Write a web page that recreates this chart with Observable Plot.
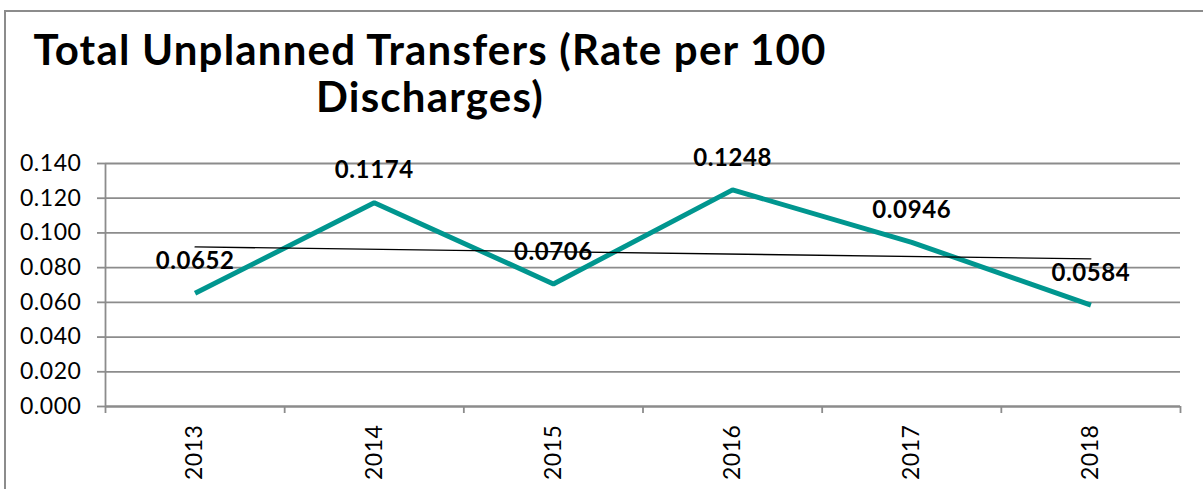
<!DOCTYPE html>
<html>
<head>
<meta charset="utf-8">
<script src="https://cdn.jsdelivr.net/npm/d3@7"></script>
<script src="https://cdn.jsdelivr.net/npm/@observablehq/plot@0.6"></script>
<style>
  html, body { margin: 0; padding: 0; background: #fff; overflow: hidden; }
  #wrap { position: relative; width: 1203px; height: 489px; overflow: hidden; }
  #ftop { position: absolute; left: 4px; top: 10px; width: 1199px; height: 2px; background: #8c8c8c; }
  #fleft { position: absolute; left: 4px; top: 10px; width: 2px; height: 479px; background: #8c8c8c; }
  #title { position: absolute; left: 0; top: 0; width: 860px; height: 140px; text-align: center;
           font-family: Lato, sans-serif; font-weight: 700; font-size: 42px; letter-spacing: 1.2px; line-height: 47px; color: #000;
           padding-top: 26px; box-sizing: border-box; white-space: nowrap; }
  #chart { position: absolute; left: 0; top: 140px; }
</style>
</head>
<body>
<div id="wrap">
  <div id="ftop"></div>
  <div id="fleft"></div>
  <div id="title">Total Unplanned Transfers (Rate per 100<br>Discharges)</div>
  <div id="chart"></div>
</div>
<script>
const years = [2013, 2014, 2015, 2016, 2017, 2018];
const rates = [0.0652, 0.1174, 0.0706, 0.1248, 0.0946, 0.0584];
const rateLabels = ["0.0652", "0.1174", "0.0706", "0.1248", "0.0946", "0.0584"];
const yTicks = [0, 0.02, 0.04, 0.06, 0.08, 0.10, 0.12, 0.14];

const data = years.map((y, i) => ({year: y, rate: rates[i], label: rateLabels[i]}));
const bounds = [years[0] - 0.5, ...years.map(y => y + 0.5)];
const grey = "#8c8c8c";

const chart = Plot.plot({
  width: 1203,
  height: 349,
  marginLeft: 105,
  marginRight: 23,
  marginTop: 23,
  marginBottom: 83,
  style: {fontFamily: "Lato, sans-serif", fontSize: "22px", color: "#000", background: "transparent"},
  x: {type: "linear", domain: [bounds[0], bounds[bounds.length - 1]]},
  y: {domain: [0, 0.14]},
  marks: [
    Plot.gridY(yTicks, {stroke: grey, strokeOpacity: 1, strokeWidth: 1.8}),
    Plot.ruleX([bounds[0]], {stroke: grey, strokeWidth: 1.8}),
    Plot.ruleY([0], {stroke: grey, strokeWidth: 1.8}),
    Plot.axisY({ticks: yTicks, tickFormat: d3.format(".3f"), tickSize: 8, tickPadding: 16, stroke: grey, strokeWidth: 1.8, fill: "#000", label: null}),
    Plot.axisX({ticks: bounds, tickFormat: () => "", tickSize: 7, stroke: grey, strokeWidth: 1.8, label: null}),
    Plot.axisX({ticks: years, tickFormat: d => String(d), tickSize: 0, tickPadding: 18, tickRotate: -90, fill: "#000", label: null}),
    Plot.line(data, {x: "year", y: "rate", stroke: "#00968F", strokeWidth: 5, strokeLinejoin: "miter", strokeLinecap: "butt"}),
    Plot.linearRegressionY(data, {x: "year", y: "rate", stroke: "#000", strokeWidth: 1.3, ci: 0}),
    Plot.text(data, {x: "year", y: "rate", text: "label", dy: -32, fontWeight: 700, fontSize: 24, fill: "#000"})
  ]
});
chart.querySelectorAll("g[aria-label='y-axis tick label'] text, g[aria-label='x-axis tick label'] text").forEach(t => {
  t.style.fontSize = "23px";
  t.style.letterSpacing = "0.55px";
});
chart.querySelectorAll("g[aria-label='text'] text").forEach(t => { t.style.letterSpacing = "0.6px"; });
document.getElementById("chart").appendChild(chart);
</script>
</body>
</html>
